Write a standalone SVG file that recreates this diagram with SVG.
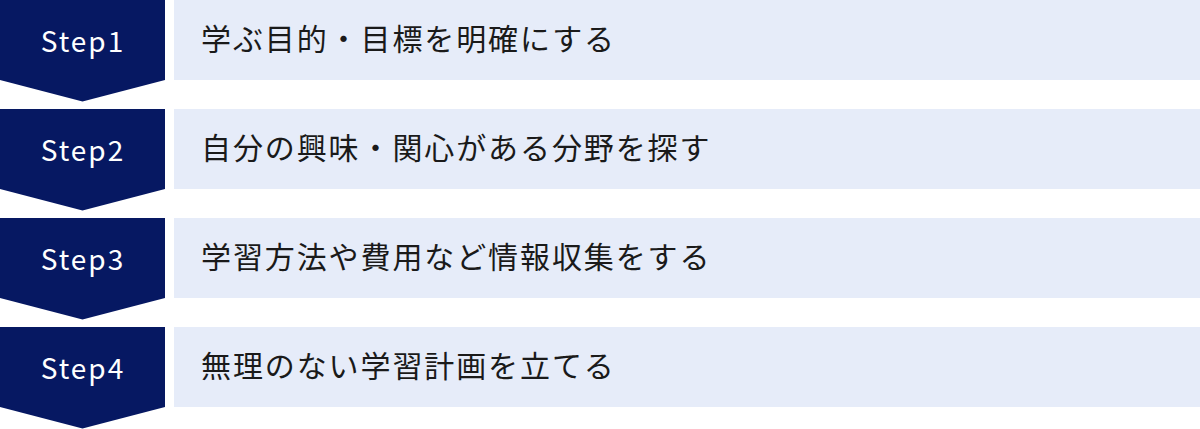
<svg xmlns="http://www.w3.org/2000/svg" width="1200" height="429" viewBox="0 0 1200 429">
<defs>
<style>
.badge{fill:#061862}
.panel{fill:#e6ecf9}
.step{font-family:"Noto Sans CJK JP","Noto Sans",sans-serif;font-size:28px;fill:#ffffff;letter-spacing:2px;text-anchor:middle}
.label{font-family:"Noto Sans CJK JP","Noto Sans",sans-serif;font-size:30px;fill:#1a1a1a;letter-spacing:1.9px}
</style>
</defs>
<rect width="1200" height="429" fill="#ffffff"/>
<g id="step1">
<polygon class="badge" points="0,0 165,0 165,80 82.5,101.5 0,80"/>
<rect class="panel" x="174" y="0" width="1026" height="80"/>
<text class="step" x="83" y="52">Step1</text>
<text class="label" x="201" y="49.5">学ぶ目的・目標を明確にする</text>
</g>
<g id="step2">
<polygon class="badge" points="0,109 165,109 165,189 82.5,210.5 0,189"/>
<rect class="panel" x="174" y="109" width="1026" height="80"/>
<text class="step" x="83" y="161">Step2</text>
<text class="label" x="201" y="158.5">自分の興味・関心がある分野を探す</text>
</g>
<g id="step3">
<polygon class="badge" points="0,218 165,218 165,298 82.5,319.5 0,298"/>
<rect class="panel" x="174" y="218" width="1026" height="80"/>
<text class="step" x="83" y="270">Step3</text>
<text class="label" x="201" y="267.5">学習方法や費用など情報収集をする</text>
</g>
<g id="step4">
<polygon class="badge" points="0,327 165,327 165,407 82.5,428.5 0,407"/>
<rect class="panel" x="174" y="327" width="1026" height="80"/>
<text class="step" x="83" y="379">Step4</text>
<text class="label" x="201" y="376.5">無理のない学習計画を立てる</text>
</g>
<g id="connectors"></g>
</svg>
